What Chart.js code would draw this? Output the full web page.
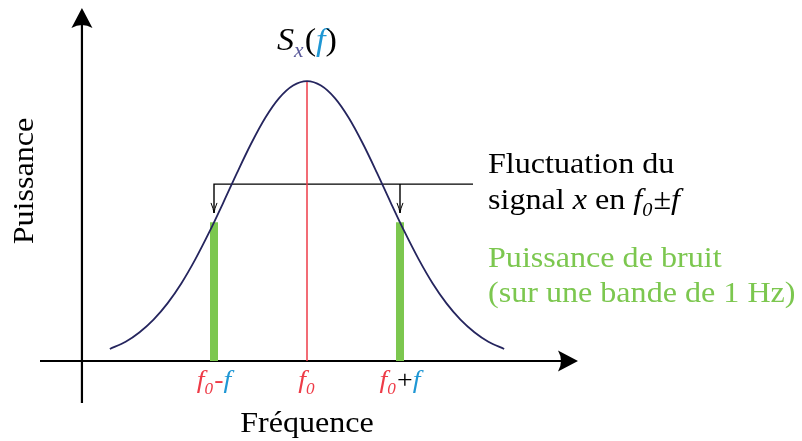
<!DOCTYPE html>
<html>
<head>
<meta charset="utf-8">
<script src="https://cdn.jsdelivr.net/npm/chart.js@4"></script>
<style>
  html, body { margin: 0; padding: 0; background: #fff; }
  #wrap { width: 802px; height: 441px; }
</style>
</head>
<body>
<div id="wrap"><canvas id="chart_psd"></canvas></div>
<script>
// Spectre de puissance S_x(f), frequence centree sur f0 (unite : ecart f)
var freqPts  = [-2.12, -1.95, -1.8, -1.65, -1.5, -1.35, -1.2, -1.05, -0.9, -0.75, -0.6, -0.45, -0.3, -0.15, 0,
                 0.15, 0.3, 0.45, 0.6, 0.75, 0.9, 1.05, 1.2, 1.35, 1.5, 1.65, 1.8, 1.95, 2.12];
var powerPts = [0.043, 0.069, 0.103, 0.148, 0.206, 0.278, 0.364, 0.461, 0.566, 0.674, 0.777, 0.868, 0.939, 0.984, 1,
                0.984, 0.939, 0.868, 0.777, 0.674, 0.566, 0.461, 0.364, 0.278, 0.206, 0.148, 0.103, 0.069, 0.043];

var f0 = 0;
var peakPower = 1;
var bandFreqs = [-1, 1];          // f0 - f, f0 + f
var bandPower = [0.496, 0.496];   // niveau de la courbe aux deux bandes
var fluctLevel = 0.632;           // ligne de rappel "Fluctuation"
var fluctArrowEnd = 0.529;
var fluctLineEnd = 1.785;

var tickLabels = [
  [['f', 'red', 1], ['0', 'red', 1, 1], ['-', 'red'], ['f', 'blue', 1]],
  [['f', 'red', 1], ['0', 'red', 1, 1]],
  [['f', 'red', 1], ['0', 'red', 1, 1], ['+', 'black'], ['f', 'blue', 1]]
];
var tickFreqs = [-1, 0, 1];

var COL = {
  navy : '#25255e',
  red  : '#ee3b47',
  green: '#7cc74f',
  blue : '#1f97d4',
  black: '#000000',
  sub  : '#5b5b9b'
};
var SERIF = "'Liberation Serif', serif";
var STRETCH = 1.07;   // la police d'origine (Computer Modern) est plus large

function drawRuns(ctx, runs, x, y, size, align) {
  // runs: [text, colour, italic, subscript]
  function font(r) {
    var s = r[3] ? Math.round(size * 0.62) : size;
    return (r[2] ? 'italic ' : '') + s + 'px ' + SERIF;
  }
  function w(r) { ctx.font = font(r); return (ctx.measureText(r[0]).width + (r[3] ? 1 : 0)) * STRETCH; }
  var total = 0;
  runs.forEach(function (r) { total += w(r); });
  var cx = align === 'center' ? x - total / 2 : x;
  ctx.textAlign = 'left';
  ctx.textBaseline = 'alphabetic';
  runs.forEach(function (r) {
    var ww = w(r);
    ctx.fillStyle = COL[r[1]] || r[1];
    ctx.save();
    ctx.translate(cx, r[3] ? y + size * 0.22 : y);
    ctx.scale(STRETCH, 1);
    ctx.fillText(r[0], 0, 0);
    ctx.restore();
    cx += ww;
  });
}

function arrowHead(ctx, tx, ty, dir, len, half) {
  // dir: 'up' or 'right'
  ctx.beginPath();
  if (dir === 'up') {
    ctx.moveTo(tx, ty);
    ctx.lineTo(tx + half, ty + len);
    ctx.quadraticCurveTo(tx, ty + len * 0.7, tx - half, ty + len);
  } else {
    ctx.moveTo(tx, ty);
    ctx.lineTo(tx - len, ty - half);
    ctx.quadraticCurveTo(tx - len * 0.7, ty, tx - len, ty + half);
  }
  ctx.closePath();
  ctx.fill();
}

var diagram = {
  id: 'diagram',
  beforeDatasetsDraw: function (chart) {
    var ctx = chart.ctx, a = chart.chartArea;
    var xs = chart.scales.x, ys = chart.scales.y;
    var ox = xs.getPixelForValue(-2.42), oy = ys.getPixelForValue(0);
    ctx.save();
    ctx.strokeStyle = '#000';
    ctx.fillStyle = '#000';
    ctx.lineWidth = 2.2;
    ctx.beginPath();
    ctx.moveTo(a.left, oy); ctx.lineTo(a.right - 8, oy);
    ctx.moveTo(ox, a.bottom); ctx.lineTo(ox, a.top + 8);
    ctx.stroke();
    arrowHead(ctx, ox, a.top, 'up', 20, 10.5);
    arrowHead(ctx, a.right, oy, 'right', 20, 10.5);
    ctx.restore();
  },
  afterDraw: function (chart) {
    var ctx = chart.ctx;
    var xs = chart.scales.x, ys = chart.scales.y;
    ctx.save();

    // petites fleches sur la ligne de rappel
    ctx.strokeStyle = '#000';
    ctx.lineWidth = 1;
    bandFreqs.forEach(function (f) {
      var px = xs.getPixelForValue(f), py = ys.getPixelForValue(fluctArrowEnd);
      ctx.beginPath();
      ctx.moveTo(px - 3, py - 10);
      ctx.quadraticCurveTo(px - 0.5, py - 4, px, py);
      ctx.quadraticCurveTo(px + 0.5, py - 4, px + 3, py - 10);
      ctx.stroke();
    });

    // S_x(f)
    var pkx = xs.getPixelForValue(f0);
    drawRuns(ctx, [['S', 'black', 1], ['x', 'sub', 1, 1], ['(', 'black'], ['f', 'blue', 1], [')', 'black']],
      pkx, 50, 32, 'center');

    // etiquettes de l'axe des frequences
    tickLabels.forEach(function (runs, i) {
      drawRuns(ctx, runs, xs.getPixelForValue(tickFreqs[i]), 388, 26, 'center');
    });

    drawRuns(ctx, [['Fréquence', 'black']], pkx, 432, 30, 'center');

    ctx.save();
    ctx.translate(33, 181);
    ctx.rotate(-Math.PI / 2);
    drawRuns(ctx, [['Puissance', 'black']], 0, 0, 30, 'center');
    ctx.restore();

    drawRuns(ctx, [['Fluctuation du', 'black']], 488, 173, 30, 'left');
    drawRuns(ctx, [['signal ', 'black'], ['x', 'black', 1], [' en ', 'black'], ['f', 'black', 1], ['0', 'black', 1, 1], ['±', 'black'], ['f', 'black', 1]],
      488, 209, 30, 'left');
    drawRuns(ctx, [['Puissance de bruit', 'green']], 488, 267, 30, 'left');
    drawRuns(ctx, [['(sur une bande de 1 Hz)', 'green']], 488, 302, 30, 'left');

    ctx.restore();
  }
};

function seg(points, colour, width) {
  return {
    data: points,
    showLine: true,
    borderColor: colour,
    borderWidth: width,
    pointRadius: 0,
    tension: 0,
    clip: false
  };
}

var curve = freqPts.map(function (f, i) { return { x: f, y: powerPts[i] }; });

var datasets = [{
  data: curve,
  showLine: true,
  borderColor: COL.navy,
  borderWidth: 1.8,
  pointRadius: 0,
  cubicInterpolationMode: 'monotone',
  clip: false
}];
datasets.push(seg([{ x: f0, y: 0 }, { x: f0, y: peakPower }], COL.red, 1.5));
bandFreqs.forEach(function (f, i) {
  datasets.push(seg([{ x: f, y: 0 }, { x: f, y: bandPower[i] }], COL.green, 8));
});
datasets.push(seg([{ x: bandFreqs[0], y: fluctArrowEnd }, { x: bandFreqs[0], y: fluctLevel }, { x: fluctLineEnd, y: fluctLevel }], COL.black, 1.4));
datasets.push(seg([{ x: bandFreqs[1], y: fluctLevel }, { x: bandFreqs[1], y: fluctArrowEnd }], COL.black, 1.4));

new Chart(document.getElementById('chart_psd').getContext('2d'), {
  type: 'scatter',
  data: { datasets: datasets },
  options: {
    responsive: true,
    maintainAspectRatio: false,
    animation: false,
    events: [],
    layout: { padding: { left: 40, right: 224, top: 8, bottom: 38 } },
    plugins: { legend: { display: false }, tooltip: { enabled: false } },
    scales: {
      x: { type: 'linear', min: -2.871, max: 2.914, display: false },
      y: { type: 'linear', min: -0.15, max: 1.261, display: false }
    }
  },
  plugins: [diagram]
});
</script>
</body>
</html>
